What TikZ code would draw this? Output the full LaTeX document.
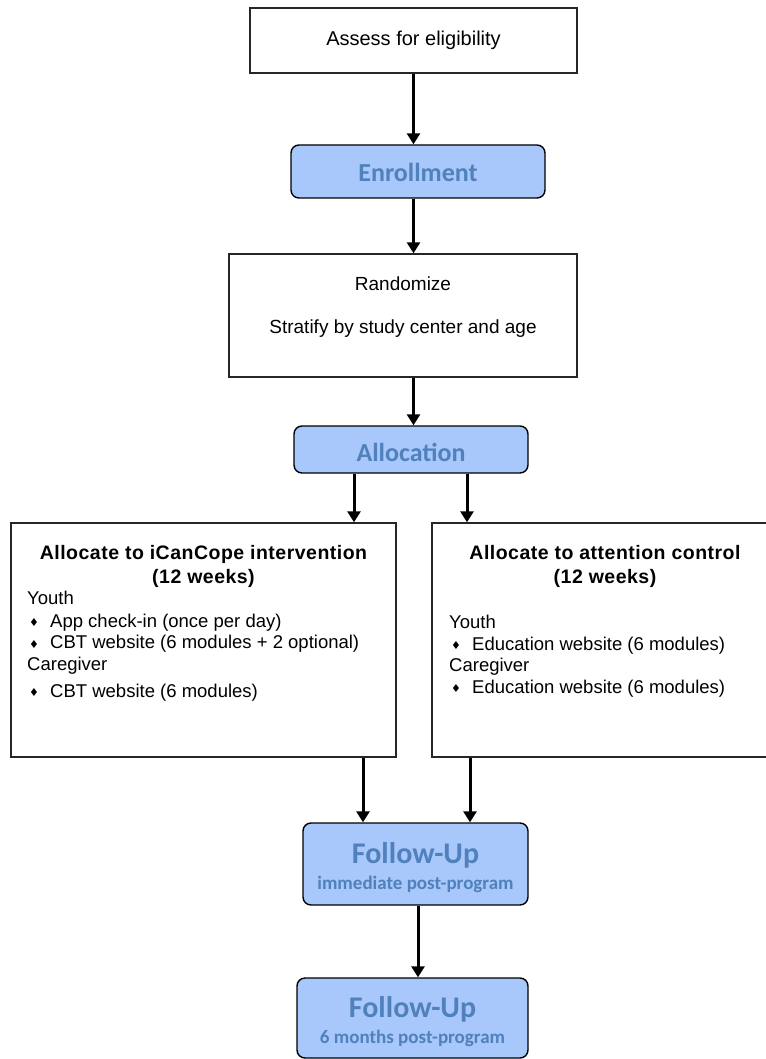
\documentclass[tikz,border=0pt]{standalone}
\usepackage{fontspec}
\setmainfont{Liberation Sans}
\newfontfamily\calfont{Carlito}
\newfontfamily\symfont{DejaVu Sans}
\newfontfamily\headfont[LetterSpace=2.5]{Liberation Sans}
\usetikzlibrary{positioning,arrows.meta}
\definecolor{boxblue}{RGB}{168,199,250}
\definecolor{textblue}{RGB}{80,129,189}
\newcommand{\itm}{\makebox[23pt][l]{\hspace{2pt}\raisebox{0.5pt}{\symfont\fontsize{11}{11}\selectfont ♦}}}
\newcommand{\lift}[1]{\rule{0pt}{#1}}

\begin{document}
\begin{tikzpicture}[
    x=1pt, y=-1pt,
    plain/.style={rectangle, draw=black!85, line width=1.4pt, fill=white, inner sep=0pt},
    stage/.style={rectangle, rounded corners=8pt, draw=black, line width=1.4pt, fill=boxblue, text=textblue, font=\calfont\bfseries\fontsize{26}{30}\selectfont, align=center, inner sep=0pt},
    followup/.style={stage, font=\calfont\bfseries\fontsize{30}{26}\selectfont},
    arr/.style={-{Triangle[length=11pt,width=13pt]}, line width=3pt},
    body/.style={font=\fontsize{18.5}{21.5}\selectfont, align=left, inner sep=0pt},
    head/.style={font=\headfont\bfseries\fontsize{19.5}{24}\selectfont, align=center, inner sep=0pt}
]
    \useasboundingbox (0,0) rectangle (765,1059);

    % Boxes
    \node[plain, minimum width=327pt, minimum height=65pt, font=\fontsize{20}{24}\selectfont] (assess) at (413.5,40.5) {Assess for eligibility};
    \node[stage, minimum width=254pt, minimum height=53pt] (enrol) at (418,171.5) {\lift{21pt}Enrollment};
    \node[plain, minimum width=348pt, minimum height=123pt] (rand) at (403,315.5) {};
    \node[stage, minimum width=234pt, minimum height=47pt] (alloc) at (411,449.5) {\lift{25pt}Allocation};
    \node[plain, minimum width=385pt, minimum height=234pt] (inter) at (203.5,640) {};
    \node[plain, minimum width=346pt, minimum height=234pt] (ctrl) at (605,640) {};
    \node[followup, minimum width=225pt, minimum height=82pt] (fu1) at (415.5,864) {\lift{29pt}Follow-Up\\{\fontsize{19}{22}\selectfont immediate post-program}};
    \node[followup, minimum width=231pt, minimum height=80pt] (fu2) at (412.5,1018) {\lift{29pt}Follow-Up\\{\fontsize{19}{22}\selectfont 6 months post-program}};

    % Texts
    \node[body, align=center, font=\fontsize{19}{22}\selectfont] (randtxt) at (403,306.7) {Randomize\\[21pt]Stratify by study center and age};
    \node[head] (intertitle) at (203.5,566) {Allocate to iCanCope intervention\\(12 weeks)};
    \node[head] (ctrltitle) at (605,566) {Allocate to attention control\\(12 weeks)};
    \node[body, anchor=north west] (interlist) at (27,590.5) {Youth\\[1.5pt]\itm App check-in (once per day)\\\itm CBT website (6 modules + 2 optional)\\Caregiver\\[5.5pt]\itm CBT website (6 modules)};
    \node[body, anchor=north west] (ctrllist) at (449,615) {Youth\\\itm Education website (6 modules)\\Caregiver\\\itm Education website (6 modules)};

    % Arrows
    \coordinate (outA) at ([xshift=-57pt]alloc.south);
    \coordinate (outB) at ([xshift=56pt]alloc.south);
    \coordinate (inA) at ([xshift=-52.5pt]fu1.north);
    \coordinate (inB) at ([xshift=54.5pt]fu1.north);
    \draw[arr] (assess.south) -- (assess.south |- enrol.north);
    \draw[arr] (enrol.south -| assess.south) -- (rand.north -| assess.south);
    \draw[arr] (rand.south -| assess.south) -- (alloc.north -| assess.south);
    \draw[arr] (outA) -- (outA |- inter.north);
    \draw[arr] (outB) -- (outB |- ctrl.north);
    \draw[arr] (inA |- inter.south) -- (inA);
    \draw[arr] (inB |- ctrl.south) -- (inB);
    \draw[arr] ([xshift=2.5pt]fu1.south) -- ([xshift=2.5pt]fu1.south |- fu2.north);
\end{tikzpicture}
\end{document}
